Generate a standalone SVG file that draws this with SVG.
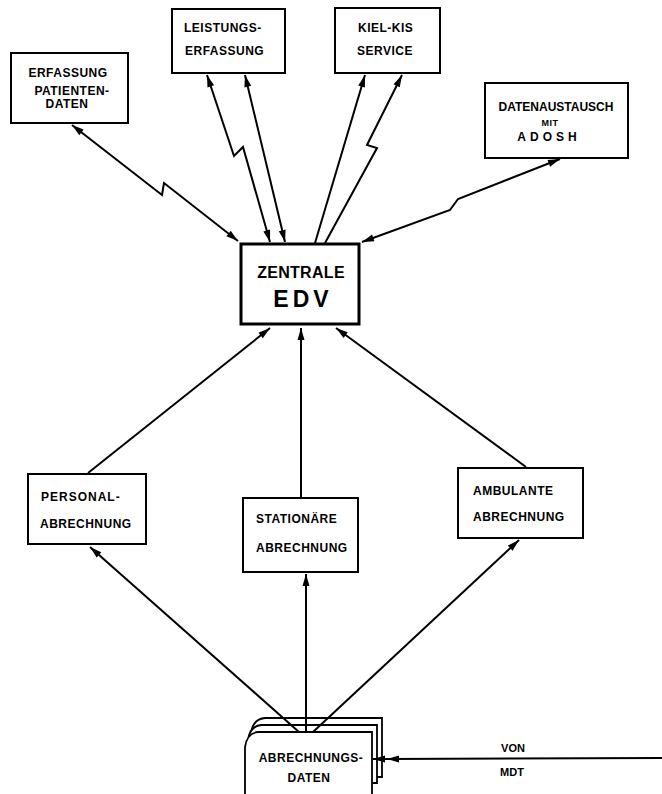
<svg xmlns="http://www.w3.org/2000/svg" width="662" height="794" viewBox="0 0 662 794">
<defs>
<marker id="ah" markerUnits="userSpaceOnUse" markerWidth="14" markerHeight="8" refX="12" refY="3.5" orient="auto-start-reverse" overflow="visible">
<path d="M0,0 L12,3.5 L0,7 Z" fill="#000"/>
</marker>
</defs>
<style>
.box{fill:#fff;stroke:#000;stroke-width:2}
.card{fill:#fff;stroke:#000;stroke-width:1.8}
.t{font-family:"Liberation Sans",Arial,sans-serif;font-weight:bold;font-size:12px;letter-spacing:0.5px;fill:#000}
.c{text-anchor:middle}
.ln{fill:none;stroke:#000;stroke-width:2}
.dbl{marker-start:url(#ah);marker-end:url(#ah)}
.one{marker-end:url(#ah)}
</style>
<rect width="662" height="794" fill="#fff"/>

<g id="erfassung-patientendaten">
<rect class="box" x="11" y="53" width="117" height="70"/>
<text class="t c" x="68" y="77">ERFASSUNG</text>
<text class="t c" x="72" y="95">PATIENTEN-</text>
<text class="t c" x="67" y="108">DATEN</text>
</g>
<g id="leistungserfassung">
<rect class="box" x="172" y="9" width="113" height="64"/>
<text class="t" x="184" y="32">LEISTUNGS-</text>
<text class="t" x="185" y="55">ERFASSUNG</text>
</g>
<g id="kiel-kis-service">
<rect class="box" x="335" y="8" width="105" height="65"/>
<text class="t" x="358" y="32">KIEL-KIS</text>
<text class="t" x="357" y="55">SERVICE</text>
</g>
<g id="datenaustausch">
<rect class="box" x="485" y="83" width="143" height="75"/>
<text class="t c" x="556" y="111" style="letter-spacing:0">DATENAUSTAUSCH</text>
<text class="t c" x="550" y="126" style="font-size:9px">MIT</text>
<text class="t c" x="549" y="141" style="letter-spacing:4px">ADOSH</text>
</g>
<g id="zentrale-edv">
<rect class="box" x="241" y="244" width="118" height="80" style="stroke-width:3"/>
<text class="t c" x="301" y="278" style="font-size:16px;letter-spacing:0.3px">ZENTRALE</text>
<text class="t c" x="303" y="307" style="font-size:23px;letter-spacing:4px">EDV</text>
</g>
<g id="personal-abrechnung">
<rect class="box" x="28" y="474" width="118" height="70"/>
<text class="t" x="41" y="501" style="letter-spacing:1px">PERSONAL-</text>
<text class="t" x="40" y="528">ABRECHNUNG</text>
</g>
<g id="stationaere-abrechnung">
<rect class="box" x="243" y="498" width="115" height="74"/>
<text class="t" x="256" y="523">STATIONÄRE</text>
<text class="t" x="256" y="552">ABRECHNUNG</text>
</g>
<g id="ambulante-abrechnung">
<rect class="box" x="458" y="468" width="125" height="70"/>
<text class="t" x="473" y="495">AMBULANTE</text>
<text class="t" x="473" y="521">ABRECHNUNG</text>
</g>
<g id="abrechnungsdaten">
<path class="card" d="M251,733 Q253,719 265,718 L382,718 L382,777 L251,777 Z"/>
<path class="card" d="M248,740 Q250,726 261,725 L377,725 L377,783 L248,783 Z"/>
<path class="card" d="M245,747 Q247,733 258,732 L372,732 L372,800 L245,800 Z"/>
<text class="t c" x="311" y="762">ABRECHNUNGS-</text>
<text class="t c" x="309" y="782">DATEN</text>
</g>

<g id="connectors">
<path class="ln dbl" d="M72,125 L162,195 L164,183 L238,241"/>
<path class="ln dbl" d="M207,75 L234,156 L243,147 L270,242"/>
<path class="ln dbl" d="M245,75 L285,242"/>
<path class="ln one" d="M315,243 L365,75"/>
<path class="ln one" d="M325,243 L377,148 L367,145 L402,75"/>
<path class="ln dbl" d="M560,159 L458,199 L450,210 L362,242"/>
<path class="ln one" d="M88,473 L270,328"/>
<path class="ln one" d="M301,497 L301,328"/>
<path class="ln one" d="M526,467 L336,328"/>
<path class="ln one" d="M299,732 L90,547"/>
<path class="ln one" d="M306,732 L306,574"/>
<path class="ln one" d="M313,732 L519,540"/>
<path class="ln" d="M662,758 L387,759 L373,759" style="marker-mid:url(#ah);marker-end:url(#ah)"/>
<text class="t c" x="513" y="752" style="font-size:11px;letter-spacing:0">VON</text>
<text class="t c" x="512" y="776" style="font-size:11px;letter-spacing:0">MDT</text>
</g>
</svg>
